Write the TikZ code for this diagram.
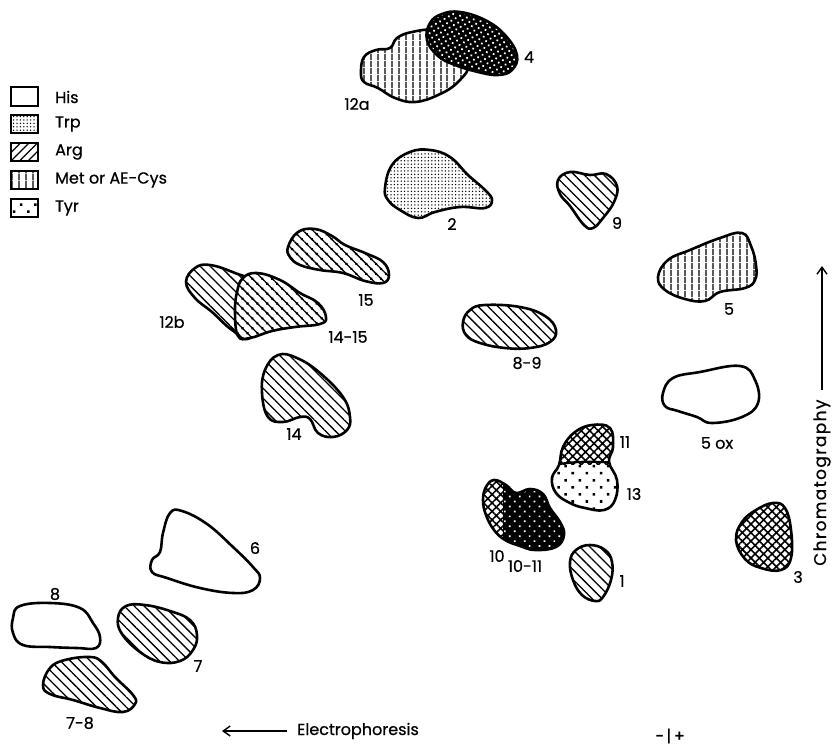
\documentclass[tikz,border=0pt]{standalone}
\usepackage{fontspec}
\setmainfont{Poppins}
\newfontfamily\lblfont[FakeBold=0.7]{Poppins}
\newfontfamily\chromfont[FakeBold=0.7,LetterSpace=8]{Poppins}
\usetikzlibrary{patterns.meta,arrows.meta,calc}
\begin{document}
\begin{tikzpicture}[x=1pt,y=-1pt,
  spot/.style={draw=black,line width=2.6pt,line join=round},
  lbl/.style={font=\lblfont\fontsize{16}{18}\selectfont,inner sep=0pt},
  argfill/.style={pattern={Lines[angle=-45,distance=7pt,line width=1.3pt]}},
  arglegend/.style={pattern={Lines[angle=45,distance=6pt,line width=1.3pt]}},
  metfill/.style={pattern={Lines[angle=90,distance=6.5pt,line width=1.2pt]}},
  trpfill/.style={pattern={Dots[distance=3.4pt,radius=0.75pt]}},
  tyrfill/.style={pattern={Dots[angle=45,distance=10pt,radius=1.8pt]}},
  xhatch/.style={pattern={Hatch[angle=45,distance=6pt,line width=1.6pt]}},
  darkdots/.style={preaction={fill=black},pattern={Dots[angle=45,distance=7pt,radius=1.2pt]},pattern color=white},
  darkwavy/.style={preaction={fill=black},pattern={Dots[angle=30,distance=5pt,radius=1.2pt]},pattern color=white},
  lgbox/.style={draw=black,line width=1.8pt},
  axarrow/.style={line width=1.4pt,-{Straight Barb[length=7pt,width=10pt,line width=1.4pt]}}
]
\useasboundingbox (0,0) rectangle (835,749);

% ---------- legend ----------
\path[lgbox] (11,87) rectangle (38,106);
\path[lgbox,trpfill] (11,115) rectangle (38,133);
\path[lgbox,arglegend] (11,143) rectangle (38,161);
\path[lgbox,metfill] (11,171) rectangle (38,189);
\path[lgbox,tyrfill] (11,199) rectangle (38,217);
\node[lbl,anchor=west] (lhis) at (55,97) {His};
\node[lbl,anchor=west] (ltrp) at (55,124) {Trp};
\node[lbl,anchor=west] (larg) at (55,152) {Arg};
\node[lbl,anchor=west] (lmet) at (55,180) {Met or AE-Cys};
\node[lbl,anchor=west] (ltyr) at (55,208) {Tyr};

% ---------- 12a and 4 ----------
\path[spot,metfill,preaction={fill=white}] plot[smooth cycle,tension=0.7] coordinates {(361,72) (364,57) (376,50) (390,48) (397,38) (412,32) (435,30) (460,38) (470,62) (458,82) (438,95) (415,102) (395,98) (378,88) (364,82)};
\path[spot,darkwavy] plot[smooth cycle,tension=0.7] coordinates {(427,40) (430,23) (442,14) (460,12) (485,20) (505,35) (517,55) (512,70) (498,75) (478,72) (455,65) (438,56)};
\node[lbl] (t12a) at (357,104) {12a};
\node[lbl] (t4) at (529,57) {4};

% ---------- 2 ----------
\path[spot,trpfill] plot[smooth cycle,tension=0.7] coordinates {(385,188) (392,165) (410,152) (430,150) (450,157) (468,175) (485,190) (492,200) (485,208) (460,207) (435,212) (418,218) (400,210) (388,200)};
\node[lbl] (t2) at (452,224) {2};

% ---------- 9 ----------
\path[spot,argfill] plot[smooth cycle,tension=0.7] coordinates {(558,180) (570,172) (590,175) (606,174) (617,186) (614,202) (603,218) (593,228) (584,225) (570,206) (560,194)};
\node[lbl] (t9) at (617,223) {9};

% ---------- 8-9 ----------
\path[spot,argfill] plot[smooth cycle,tension=0.7] coordinates {(463,322) (470,310) (485,305) (520,307) (545,316) (556,330) (550,342) (530,348) (505,348) (480,343) (466,335)};
\node[lbl] (t89) at (527,363) {8-9};

% ---------- 5 ----------
\path[spot,metfill] plot[smooth cycle,tension=0.7] coordinates {(658,277) (668,260) (690,250) (720,238) (742,233) (751,246) (756,265) (755,280) (745,288) (720,292) (705,301) (685,299) (665,290)};
\node[lbl] (t5) at (729,309) {5};

% ---------- 5 ox ----------
\path[spot] plot[smooth cycle,tension=0.7] coordinates {(663,393) (673,378) (700,372) (740,366) (755,380) (758,403) (742,417) (712,423) (697,417) (678,411) (665,406)};
\node[lbl] (t5ox) at (717,443) {5 ox};

% ---------- 3 ----------
\path[spot,xhatch] plot[smooth cycle,tension=0.7] coordinates {(736,540) (742,522) (756,510) (773,503) (785,508) (791,530) (791,558) (781,570) (761,568) (745,559)};
\node[lbl] (t3) at (798,577) {3};

% ---------- 11 / 13 ----------
\begin{scope}
\clip plot[smooth cycle,tension=0.7] coordinates {(563,447) (575,432) (592,425) (610,428) (613,447) (609,462) (617,480) (615,500) (604,510) (585,508) (570,503) (556,493) (552,478) (559,465)};
\path[xhatch] (540,415) rectangle (630,464);
\path[tyrfill] (540,464) rectangle (630,520);
\draw[line width=2.2pt] (545,466) .. controls (580,461) .. (625,463);
\end{scope}
\path[spot] plot[smooth cycle,tension=0.7] coordinates {(563,447) (575,432) (592,425) (610,428) (613,447) (609,462) (617,480) (615,500) (604,510) (585,508) (570,503) (556,493) (552,478) (559,465)};
\node[lbl] (t11) at (625,442) {11};
\node[lbl] (t13) at (634,494) {13};

% ---------- 10 / 10-11 ----------
\begin{scope}
\clip plot[smooth cycle,tension=0.7] coordinates {(483,500) (486,487) (494,480) (506,485) (516,493) (530,489) (543,494) (550,508) (560,522) (564,535) (556,547) (535,550) (520,546) (505,540) (494,530) (486,515)};
\path[xhatch] (475,470) rectangle (503,560);
\path[darkdots] (503,470) rectangle (575,560);
\end{scope}
\path[spot] plot[smooth cycle,tension=0.7] coordinates {(483,500) (486,487) (494,480) (506,485) (516,493) (530,489) (543,494) (550,508) (560,522) (564,535) (556,547) (535,550) (520,546) (505,540) (494,530) (486,515)};
\node[lbl] (t10) at (497,556) {10};
\node[lbl] (t1011) at (525,566) {10-11};

% ---------- 1 ----------
\path[spot,argfill] plot[smooth cycle,tension=0.7] coordinates {(570,562) (576,550) (590,545) (605,550) (612,562) (611,580) (603,597) (595,601) (582,595) (573,580)};
\node[lbl] (t1) at (622,581) {1};

% ---------- 15 ----------
\path[spot,preaction={argfill},pattern={Dots[angle=45,distance=7pt,radius=1.5pt]}] plot[smooth cycle,tension=0.7] coordinates {(288,247) (298,232) (315,229) (332,236) (345,245) (365,253) (383,262) (389,275) (383,283) (365,281) (343,273) (320,270) (300,265) (290,257)};
\node[lbl] (t15) at (366,300) {15};

% ---------- 12b and 14-15 ----------
\path[spot,argfill] plot[smooth cycle,tension=0.7] coordinates {(186,282) (195,268) (210,265) (235,273) (260,285) (265,310) (250,338) (232,330) (212,312) (195,298)};
\path[spot,preaction={fill=white},preaction={argfill},pattern={Dots[angle=45,distance=7pt,radius=1.5pt]}] plot[smooth cycle,tension=0.7] coordinates {(243,278) (257,273) (280,280) (300,293) (318,303) (326,317) (320,324) (295,327) (272,331) (250,338) (238,336) (235,312) (237,292)};
\node[lbl] (t12b) at (172,322) {12b};
\node[lbl] (t1415) at (348,337) {14-15};

% ---------- 14 ----------
\path[spot,argfill] plot[smooth cycle,tension=0.7] coordinates {(265,370) (278,355) (297,358) (320,373) (343,397) (350,417) (347,430) (333,437) (318,433) (310,419) (300,417) (283,422) (268,417) (262,393)};
\node[lbl] (t14) at (294,434) {14};

% ---------- 6 ----------
\path[spot] plot[smooth cycle,tension=0.7] coordinates {(163,533) (170,513) (182,511) (207,524) (233,547) (253,567) (260,578) (253,590) (233,593) (200,588) (167,578) (152,572) (152,560) (160,552)};
\node[lbl] (t6) at (255,548) {6};

% ---------- 8 ----------
\path[spot] plot[smooth cycle,tension=0.7] coordinates {(13,618) (20,606) (50,603) (80,608) (93,623) (100,637) (96,648) (77,648) (50,647) (23,645) (13,633)};
\node[lbl] (t8) at (55,594) {8};

% ---------- 7 ----------
\path[spot,argfill] plot[smooth cycle,tension=0.7] coordinates {(118,618) (126,606) (145,605) (170,611) (190,620) (197,635) (193,650) (180,661) (160,662) (140,652) (122,634)};
\node[lbl] (t7) at (198,666) {7};

% ---------- 7-8 ----------
\path[spot,argfill] plot[smooth cycle,tension=0.7] coordinates {(43,685) (50,668) (65,660) (90,657) (102,662) (115,677) (133,695) (135,704) (123,712) (100,708) (73,700) (50,694)};
\node[lbl] (t78) at (80,723) {7-8};

% ---------- axes ----------
\node[lbl,anchor=west] (elec) at (297,731) {Electrophoresis};
\coordinate (etip) at (222,731);
\coordinate (etail) at (287,731);
\draw[axarrow] (etail) -- (etip);
\node[lbl] (pm) at (670,736) {−\,|\,+};
\node[font=\chromfont\fontsize{17}{19}\selectfont,inner sep=0pt,rotate=90,anchor=west] (chrom) at (822,566) {Chromatography};
\coordinate (ctip) at (822,266);
\coordinate (ctail) at ($(chrom.east)+(0,-9)$);
\draw[axarrow] (ctail) -- (ctip);
\end{tikzpicture}
\end{document}
